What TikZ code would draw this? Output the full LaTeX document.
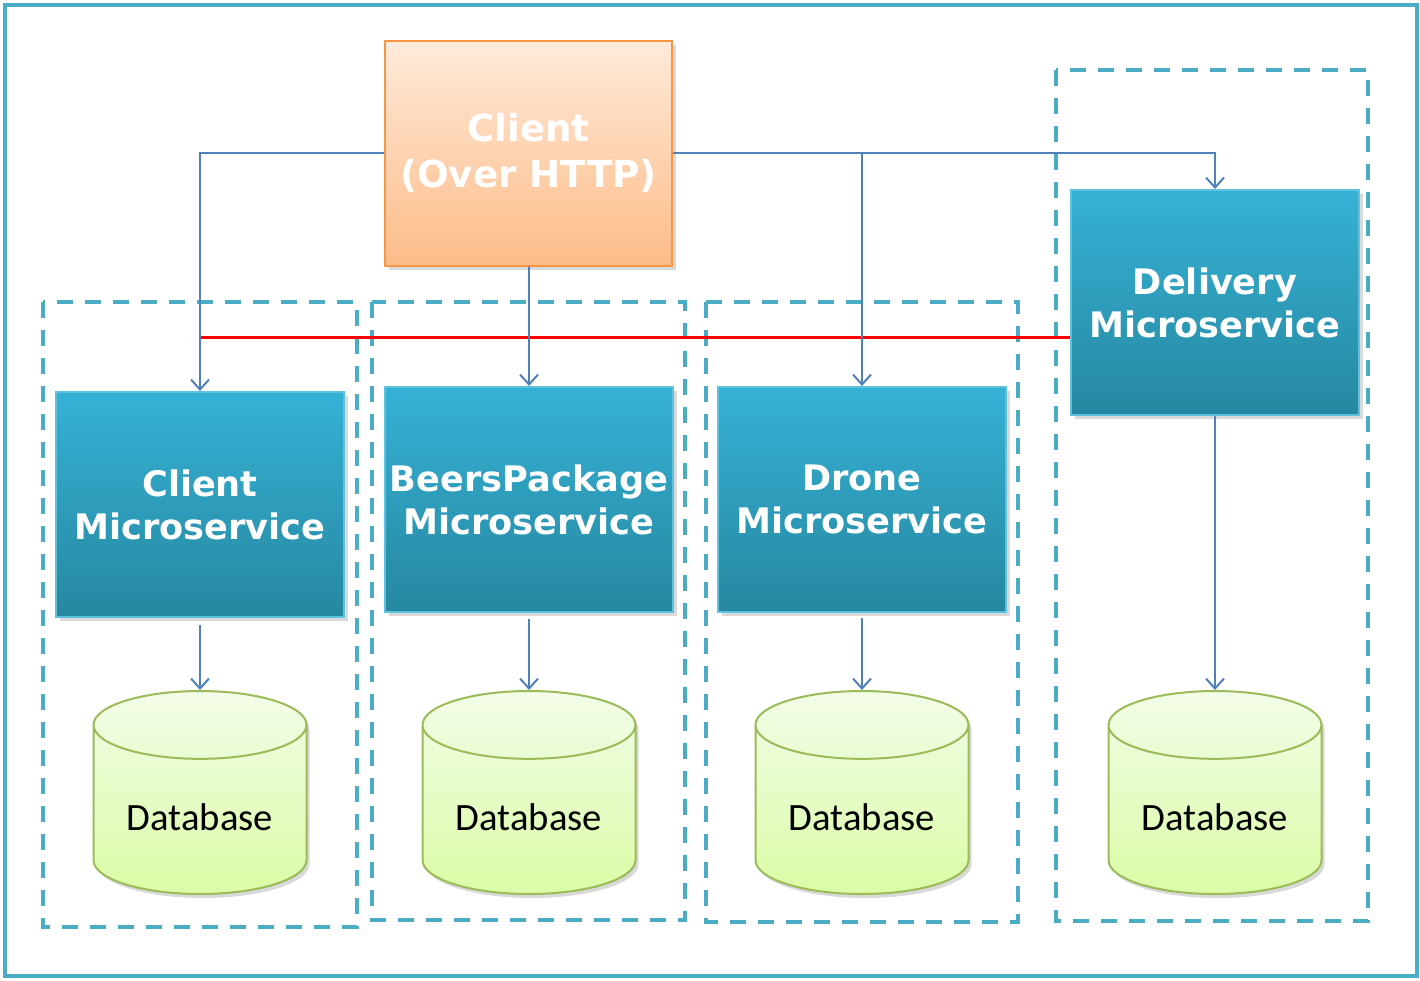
\documentclass[tikz,border=0pt]{standalone}
\usepackage{fontspec}
\newfontfamily\msfont{DejaVu Sans}
\newfontfamily\dbfont{Carlito}
\usetikzlibrary{positioning,arrows.meta,shapes.geometric,shadows}

\definecolor{frameblue}{RGB}{75,172,198}
\definecolor{linkblue}{RGB}{79,129,189}
\definecolor{clienttop}{RGB}{255,234,218}
\definecolor{clientbot}{RGB}{252,188,136}
\definecolor{clientedge}{RGB}{247,150,70}
\definecolor{mstop}{RGB}{54,177,214}
\definecolor{msbot}{RGB}{38,136,160}
\definecolor{dbtop}{RGB}{243,252,232}
\definecolor{dbbot}{RGB}{218,252,166}
\definecolor{dbedge}{RGB}{155,187,89}

\tikzset{
  frame/.style={draw=frameblue, line width=0.4mm},
  group/.style={draw=frameblue, line width=0.4mm,
    dash pattern=on 1.6mm off 1.2mm},
  client/.style={rectangle, draw=clientedge, line width=0.2mm,
    top color=clienttop, bottom color=clientbot,
    minimum width=2.87cm, minimum height=2.25cm,
    text=white, align=center,
    font=\msfont\bfseries\fontsize{10.6}{13.2}\selectfont,
    drop shadow={shadow xshift=0.4mm, shadow yshift=-0.4mm,
      opacity=0.3}},
  service/.style={rectangle, draw=mstop!80!white, line width=0.2mm,
    top color=mstop, bottom color=msbot,
    minimum width=2.88cm, minimum height=2.25cm, inner xsep=0.4mm,
    text=white, align=center,
    font=\msfont\bfseries\fontsize{10}{12.3}\selectfont,
    drop shadow={shadow xshift=0.4mm, shadow yshift=-0.4mm,
      opacity=0.3}},
  database/.style={cylinder, shape border rotate=90, aspect=0.40,
    anchor=north, draw=dbedge, line width=0.2mm,
    top color=dbtop, bottom color=dbbot,
    minimum width=2.13cm, minimum height=2.03cm,
    font=\dbfont\fontsize{11}{13}\selectfont,
    drop shadow={shadow xshift=0.3mm, shadow yshift=-0.4mm,
      opacity=0.3}},
  link/.style={draw=linkblue, line width=0.2mm,
    -{Straight Barb[length=1mm,width=1.8mm]}},
  redline/.style={draw=red, line width=0.3mm}
}

\begin{document}
\begin{tikzpicture}
          \useasboundingbox (0,0) rectangle (14.2,-9.8);

          \draw[frame] (0.05,-0.05) rectangle (14.17,-9.76);

          % dashed groups
          \draw[group] (0.43,-3.02) rectangle (3.57,-9.27);

          \draw[group] (3.72,-3.02) rectangle (6.85,-9.20);

          \draw[group] (7.06,-3.02) rectangle (10.18,-9.22);

          \draw[group] (10.56,-0.70) rectangle (13.68,-9.21);

          \draw (5.285,-1.53) node[client] (client)
          {Client\\(Over HTTP)};

          \draw (2.00,-5.045) node[service] (cms) {Client\\Microservice};

          \draw (5.29,-4.995) node[service] (bms)
          {BeersPackage\\Microservice};

          \draw (8.62,-4.995) node[service] (dms) {Drone\\Microservice};

          \draw (12.15,-3.025) node[service] (lms)
          {Delivery\\Microservice};

          \draw (2.00,-6.90) node[database] (db1) {Database};

          \draw (5.29,-6.90) node[database] (db2)
          {Database};

          \draw (8.62,-6.90) node[database] (db3) {Database};

          \draw (12.15,-6.90) node[database] (db4) {Database};

          \coordinate (redstart) at (2.00,-3.37);

          \draw[redline] (redstart) -- (redstart -| lms.west);

          \draw[link] (client.west) -| (cms.north);

          \draw[link] (client.south) -| (bms.north);

          \draw[link] (client.east) -| (lms.north);

          \draw[link]
          (client.east) -| (dms.north);

          \draw[link,shorten <=0.7mm] (cms.south) -- (db1.north);

          \draw[link,shorten <=0.6mm] (bms.south) --
          (db2.north);

          \draw[link,shorten <=0.5mm] (dms.south) -- (db3.north);

          \draw[link] (lms.south) -- (db4.north);
        \end{tikzpicture}
\end{document}
